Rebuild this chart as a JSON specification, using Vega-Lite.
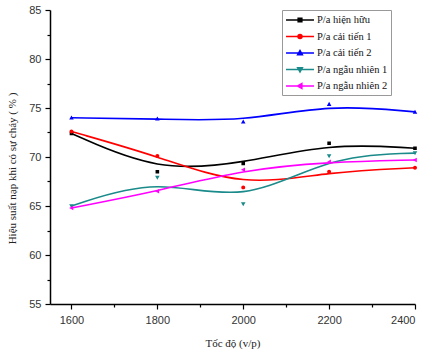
{
  "$schema": "https://vega.github.io/schema/vega-lite/v6.json",
  "width": 365,
  "height": 294,
  "autosize": "none",
  "padding": {"left": 50, "top": 10, "right": 12, "bottom": 49},
  "background": "white",
  "config": {
    "view": {"stroke": null},
    "axis": {
      "grid": false,
      "domainColor": "black",
      "domainWidth": 1.5,
      "tickColor": "black",
      "tickWidth": 1.2,
      "labelFont": "Liberation Sans",
      "labelFontSize": 11,
      "labelColor": "#333",
      "titleFont": "Liberation Serif",
      "titleFontSize": 11,
      "titleFontWeight": "normal",
      "titleColor": "#222"
    }
  },
  "data": {
    "values": [
      {"series": "P/a hiện hữu", "speed": 1600, "eff": 72.4},
      {"series": "P/a hiện hữu", "speed": 1800, "eff": 68.5},
      {"series": "P/a hiện hữu", "speed": 2000, "eff": 69.35},
      {"series": "P/a hiện hữu", "speed": 2200, "eff": 71.4},
      {"series": "P/a hiện hữu", "speed": 2400, "eff": 70.9},
      {"series": "P/a cải tiến 1", "speed": 1600, "eff": 72.6},
      {"series": "P/a cải tiến 1", "speed": 1800, "eff": 70.1},
      {"series": "P/a cải tiến 1", "speed": 2000, "eff": 66.9},
      {"series": "P/a cải tiến 1", "speed": 2200, "eff": 68.5},
      {"series": "P/a cải tiến 1", "speed": 2400, "eff": 68.9},
      {"series": "P/a cải tiến 2", "speed": 1600, "eff": 74.0},
      {"series": "P/a cải tiến 2", "speed": 1800, "eff": 73.9},
      {"series": "P/a cải tiến 2", "speed": 2000, "eff": 73.6},
      {"series": "P/a cải tiến 2", "speed": 2200, "eff": 75.4},
      {"series": "P/a cải tiến 2", "speed": 2400, "eff": 74.6},
      {"series": "P/a ngẫu nhiên 1", "speed": 1600, "eff": 65.0},
      {"series": "P/a ngẫu nhiên 1", "speed": 1800, "eff": 67.9},
      {"series": "P/a ngẫu nhiên 1", "speed": 2000, "eff": 65.2},
      {"series": "P/a ngẫu nhiên 1", "speed": 2200, "eff": 70.1},
      {"series": "P/a ngẫu nhiên 1", "speed": 2400, "eff": 70.4},
      {"series": "P/a ngẫu nhiên 2", "speed": 1600, "eff": 64.8},
      {"series": "P/a ngẫu nhiên 2", "speed": 1800, "eff": 66.5},
      {"series": "P/a ngẫu nhiên 2", "speed": 2000, "eff": 68.7},
      {"series": "P/a ngẫu nhiên 2", "speed": 2200, "eff": 69.5},
      {"series": "P/a ngẫu nhiên 2", "speed": 2400, "eff": 69.7}
    ]
  },
  "encoding": {
    "x": {
      "field": "speed",
      "type": "quantitative",
      "scale": {"domain": [1550, 2400], "nice": false, "zero": false},
      "axis": {
        "title": "Tốc độ (v/p)",
        "values": [1600, 1700, 1800, 1900, 2000, 2100, 2200, 2300, 2400],
        "labelExpr": "datum.value % 200 === 0 ? datum.label : ''",
        "format": "d",
        "tickSize": {"condition": {"test": "datum.value % 200 === 0", "value": 5}, "value": 3},
        "labelPadding": 5,
        "titlePadding": 12,
        "labelOverlap": false
      }
    },
    "y": {
      "field": "eff",
      "type": "quantitative",
      "scale": {"domain": [55, 85], "nice": false, "zero": false},
      "axis": {
        "title": "Hiệu suất nạp khi có sự cháy ( % )",
        "values": [55, 57.5, 60, 62.5, 65, 67.5, 70, 72.5, 75, 77.5, 80, 82.5, 85],
        "labelExpr": "datum.value % 5 === 0 ? datum.label : ''",
        "tickSize": {"condition": {"test": "datum.value % 5 === 0", "value": 5}, "value": 3},
        "labelPadding": 4,
        "titlePadding": 11,
        "titleY": 158,
        "labelOverlap": false
      }
    },
    "color": {
      "field": "series",
      "type": "nominal",
      "scale": {
        "domain": ["P/a hiện hữu", "P/a cải tiến 1", "P/a cải tiến 2", "P/a ngẫu nhiên 1", "P/a ngẫu nhiên 2"],
        "range": ["#000000", "#ff0000", "#0000ff", "#1a8a8a", "#ff00ff"]
      },
      "legend": {
        "title": null,
        "orient": "none",
        "legendX": 232,
        "legendY": 0,
        "padding": 3,
        "strokeColor": "#999",
        "fillColor": "white",
        "symbolSize": 144,
        "symbolOffset": 8,
        "symbolStrokeWidth": 1.6,
        "labelFont": "Liberation Serif",
        "labelFontSize": 10.5,
        "labelColor": "#111",
        "labelOffset": 10,
        "rowPadding": 3.5,
        "encode": {
          "symbols": {
            "update": {
              "stroke": {"scale": "color", "field": "value"},
              "strokeWidth": {"value": 1.6}
            }
          }
        }
      }
    }
  },
  "layer": [
    {
      "mark": {"type": "line", "interpolate": "basis", "strokeWidth": 1.6}
    },
    {
      "mark": {"type": "point", "filled": true, "opacity": 1, "size": 144},
      "encoding": {
        "shape": {
          "field": "series",
          "type": "nominal",
          "scale": {
            "domain": ["P/a hiện hữu", "P/a cải tiến 1", "P/a cải tiến 2", "P/a ngẫu nhiên 1", "P/a ngẫu nhiên 2"],
            "range": [
              "M-2.33,0H2.33M-0.3,-0.3H0.3V0.3H-0.3Z",
              "M-2.33,0H2.33M-0.33,0A0.33,0.33 0 1,0 0.33,0A0.33,0.33 0 1,0 -0.33,0Z",
              "M-2.33,0H2.33M0,-0.38L0.38,0.3H-0.38Z",
              "M-2.33,0H2.33M0,0.38L0.38,-0.3H-0.38Z",
              "M-2.33,0H2.33M-0.38,0L0.3,-0.38V0.38Z"
            ]
          },
          "legend": {
            "title": null,
            "orient": "none",
            "legendX": 232,
            "legendY": 0,
            "padding": 3,
            "strokeColor": "#999",
            "fillColor": "white",
            "symbolSize": 144,
            "symbolOffset": 8,
            "symbolStrokeWidth": 1.6,
            "labelFont": "Liberation Serif",
            "labelFontSize": 10.5,
            "labelColor": "#111",
            "labelOffset": 10,
            "rowPadding": 3.5,
            "encode": {
              "symbols": {
                "update": {
                  "stroke": {"scale": "color", "field": "value"},
                  "strokeWidth": {"value": 1.6}
                }
              }
            }
          }
        }
      }
    }
  ]
}
